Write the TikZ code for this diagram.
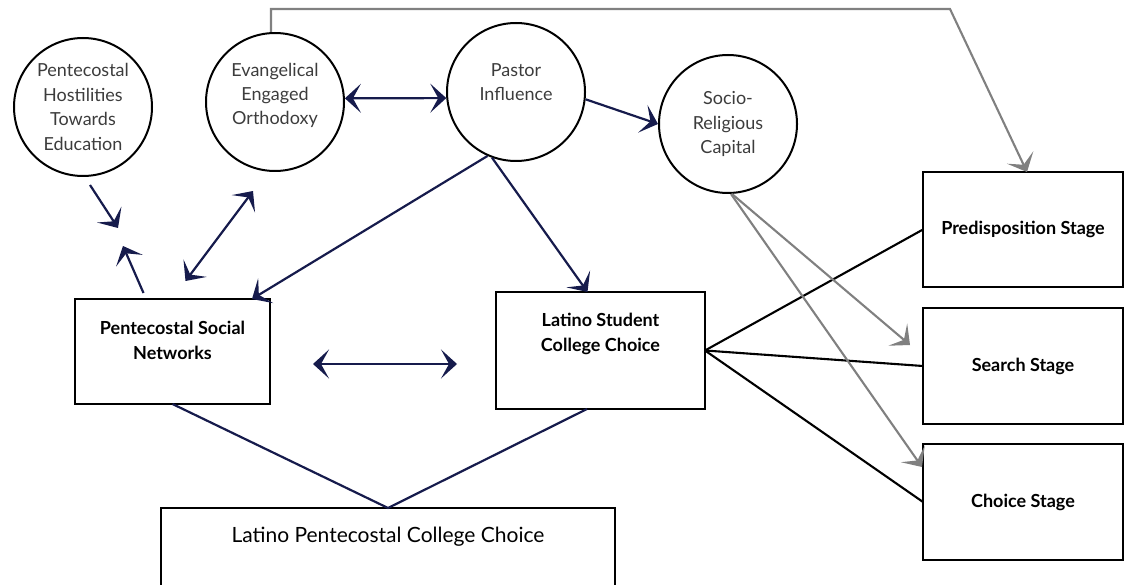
\documentclass[tikz,border=0pt]{standalone}
\usepackage{fontspec}
\setmainfont{Lato}
\usetikzlibrary{arrows.meta}
\definecolor{navy}{RGB}{22,27,76}
\definecolor{linkgray}{RGB}{128,128,128}
\definecolor{circletext}{RGB}{60,60,60}
\begin{document}
\begin{tikzpicture}[x=1pt,y=-1pt,>={Stealth[length=16pt,width=29pt,inset=8pt]}]
\tikzstyle{place}=[circle,draw,line width=2pt,inner sep=0pt,minimum size=138pt,align=center,text=circletext,font=\fontsize{18}{24.5}\selectfont]
\tikzstyle{placetext}=[align=center,text=circletext,font=\fontsize{18}{24}\selectfont]
\tikzstyle{plate}=[rectangle,draw,line width=2.4pt,inner sep=0pt,outer sep=0pt]
\tikzstyle{platetext}=[align=center,font=\fontsize{18}{25}\selectfont\bfseries]
\tikzstyle{link}=[navy,line width=2.2pt]
\tikzstyle{stageline}=[black,line width=2.1pt]
\tikzstyle{greylink}=[linkgray,line width=2.1pt]
\clip (0,0) rectangle (1126,585);
 \node[place] (host) at (83,107) {Pentecostal\\Hostilities\\Towards\\Education};
 \node[place] (evang) at (275,102) {};
 \node[placetext] (evang-t) at ([yshift=7pt]evang.center) {Evangelical\\Engaged\\Orthodoxy};
 \node[place] (pastor) at (516,92) {};
 \node[placetext] (pastor-t) at ([yshift=10pt]pastor.center) {Pastor\\Influence};
 \node[place] (socio) at (728,124) {Socio-\\Religious\\Capital};

 \node[plate, minimum width=195pt, minimum height=105pt] (psn) at (172.5,351.5) {};
 \node[platetext] (psn-t) at ([yshift=11pt]psn.center) {Pentecostal Social\\Networks};
 \node[plate, minimum width=209pt, minimum height=117pt] (lscc) at (600.5,350.5) {};
 \node[platetext] (lscc-t) at ([yshift=17pt]lscc.center) {Latino Student\\College Choice};
 \node[plate, minimum width=454pt, minimum height=100pt] (lpcc) at (388,558) {};
 \node[platetext, font=\fontsize{21}{25}\selectfont, text=black] (lpcc-t) at ([yshift=21pt]lpcc.center) {Latino Pentecostal College Choice};

 \node[plate, platetext, minimum width=200pt, minimum height=115pt] (pred) at (1023,229.5) {Predisposition Stage};
 \node[plate, platetext, minimum width=200pt, minimum height=116pt] (search) at (1023,366) {Search Stage};
 \node[plate, platetext, minimum width=200pt, minimum height=116pt] (choice) at (1023,502) {Choice Stage};

 % top grey route
 \coordinate (bend) at (950,9);
 \draw [->,greylink] ([xshift=-4pt]evang.north) |- (bend) -- ([xshift=4pt]pred.north);

 \draw [<->,link] (evang.3) -- (pastor.185);
 \draw [->,link] (pastor.-6) -- (socio.west);
 \draw [->,link] (pastor.250) -- ([xshift=-13pt]lscc.north);
 \draw [->,link] (pastor.246) -- ([xshift=-18pt]psn.north east);

 \coordinate (hostend) at (118,228);
 \coordinate (psnup) at (123,246);
 \draw [->,link] ([xshift=7pt,yshift=-8pt]host.south) -- (hostend);
 \draw [->,link] ([xshift=-29pt,yshift=6pt]psn.north) -- (psnup);
 \draw [<->,link] ([xshift=13pt,yshift=18pt]psn.north) -- ([xshift=-22pt,yshift=-19pt]evang.south);
 \draw [<->,link] ([xshift=43pt,yshift=-12.5pt]psn.east) -- ([xshift=-39pt,yshift=-13.5pt]lscc.west);

 \draw [link] (psn.south) -- (lpcc.north) -- ([xshift=-13.5pt]lscc.south);

 \draw [stageline] (lscc.east) -- (pred.west);
 \draw [stageline] (lscc.east) -- (search.west);
 \draw [stageline] (lscc.east) -- (choice.west);

 \draw [->,greylink] ([xshift=4pt]socio.south) -- ([xshift=-13pt,yshift=21pt]search.west);
 \draw [->,greylink] ([xshift=3pt]socio.south) -- ([xshift=-1pt,yshift=35pt]choice.west);
\end{tikzpicture}
\end{document}
